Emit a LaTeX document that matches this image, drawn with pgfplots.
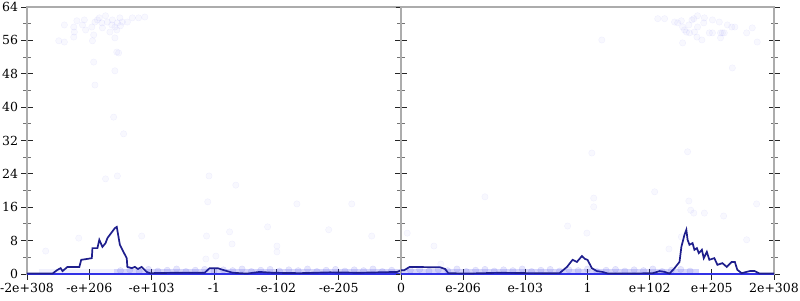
\documentclass[border=0pt]{standalone}
\usepackage{fontspec}
\setmainfont{DejaVu Serif}
\usepackage{pgfplots}
\pgfplotsset{compat=1.18}
\definecolor{axisgray}{RGB}{172,172,172}
\definecolor{navy}{RGB}{30,30,140}
\definecolor{ptblue}{RGB}{50,50,230}
\begin{document}
\begin{tikzpicture}
\path[use as bounding box] (0pt,0pt) rectangle (800pt,300pt);
\pgfplotsset{
 panel/.style={
  scale only axis, height=267pt, ymin=0, ymax=64, clip=false,
  axis line style={axisgray, line width=1.6pt},
  ytick={0,8,...,64}, minor y tick num=1,
  tick align=center, major tick length=11pt, minor tick length=7pt,
  major tick style={black!85, line width=0.9pt},
  minor tick style={black!55, line width=0.9pt},
  xtick pos=bottom, ytick pos=both,
  tick label style={font=\fontsize{12.5}{14}\selectfont, black},
  /pgf/number format/assume math mode=true,
 },
 pts/.style={only marks, mark=*, mark size=3.2pt,
  mark options={fill=ptblue, draw=ptblue, fill opacity=0.035, draw opacity=0.06}},
 band/.style={only marks, mark=*, mark size=3.2pt,
  mark options={fill=ptblue, draw=ptblue, fill opacity=0.12, draw opacity=0.12}},
}
% ---------------- left panel ----------------
\begin{axis}[panel, at={(27pt,26pt)}, anchor=south west, width=374pt,
  xmin=-6, xmax=0, xtick={-6,...,0},
  xticklabels={-2e+308,-e+206,-e+103,-1,-e-102,-e-205,0},
  yticklabel pos=left]
\addplot[draw=none, fill=ptblue, fill opacity=0.07] coordinates
 {(-5.8,0) (-5.8,1.3) (-4.6,1.3) (-4.6,0)} -- cycle;
\addplot[draw=none, fill=ptblue, fill opacity=0.2] coordinates
 {(-4.6,0) (-4.6,1.3) (0,1.3) (0,0)} -- cycle;
\addplot[band] coordinates {
 (-4.5,0.8)(-4.35,1.0)(-4.2,0.6)(-4.05,1.1)(-3.9,0.7)(-3.75,0.9)(-3.6,1.2)(-3.45,0.6)
 (-3.3,0.9)(-3.15,1.1)(-3.0,0.7)(-2.85,1.0)(-2.7,0.8)(-2.55,1.2)(-2.4,0.6)(-2.25,0.9)
 (-2.1,1.1)(-1.95,0.7)(-1.8,1.0)(-1.65,0.8)(-1.5,1.2)(-1.35,0.6)(-1.2,0.9)(-1.05,1.1)
 (-0.9,0.7)(-0.75,1.0)(-0.6,0.8)(-0.45,1.2)(-0.3,0.6)(-0.15,0.9)};
\addplot[pts] coordinates {
 (-5.40,59.7)(-5.49,55.9)(-5.40,55.6)(-5.25,59.2)(-5.24,58.0)(-5.25,56.8)(-5.20,60.7)
 (-5.11,59.7)(-5.08,60.9)(-5.06,58.5)(-4.96,59.2)(-4.95,55.9)(-4.93,57.3)(-4.91,60.4)
 (-4.87,60.9)(-4.84,61.4)(-4.80,60.2)(-4.79,59.0)(-4.74,61.9)(-4.71,60.4)(-4.67,58.0)
 (-4.64,59.7)(-4.63,60.9)(-4.59,59.2)(-4.56,58.5)(-4.55,60.2)(-4.51,61.4)(-4.50,59.5)
 (-4.47,60.4)(-4.39,60.4)(-4.31,61.4)(-4.21,61.4)(-4.11,61.6)(-4.59,56.6)(-4.56,53.2)
 (-4.53,53.0)(-4.93,50.8)(-4.59,48.7)(-4.91,45.3)(-4.61,37.6)(-4.45,33.6)
 (-4.74,22.8)(-4.55,23.5)(-5.17,8.6)(-5.70,5.5)(-4.16,9.1)(-3.08,23.5)(-2.65,21.3)
 (-3.10,17.3)(-1.67,16.8)(-0.79,16.8)(-2.14,11.3)(-2.75,10.1)(-1.16,10.6)(-3.12,9.1)
 (-2.71,7.2)(-0.47,9.1)(-1.99,6.7)(-1.99,5.3)(-3.13,3.6)(-2.97,4.3)};
\addplot[ptblue, line width=2.4pt] coordinates {(-6,0) (0,0)};
\addplot[navy, line width=1.7pt] coordinates {
 (-6,0.1)(-5.59,0.1)(-5.51,1.0)(-5.46,1.4)(-5.43,0.7)(-5.35,1.7)(-5.16,1.7)(-5.13,3.4)
 (-5.04,3.6)(-4.96,3.8)(-4.95,6.2)(-4.87,6.2)(-4.84,8.2)(-4.79,6.5)(-4.74,7.4)(-4.71,8.6)
 (-4.64,10.0)(-4.59,11.0)(-4.56,11.3)(-4.51,7.0)(-4.47,5.8)(-4.40,3.8)(-4.39,1.7)
 (-4.32,1.4)(-4.27,1.7)(-4.22,1.2)(-4.16,1.7)(-4.08,0.5)(-4.03,0.2)(-3.6,0.3)(-3.15,0.3)
 (-3.07,1.4)(-2.94,1.4)(-2.86,1.0)(-2.70,0.3)(-2.47,0.1)(-2.27,0.5)(-2.06,0.3)(-1.62,0.2)
 (-1.14,0.4)(-0.66,0.3)(-0.06,0.5)(0,0.9)};
\end{axis}
% ---------------- right panel ----------------
\begin{axis}[panel, at={(401pt,26pt)}, anchor=south west, width=373pt,
  xmin=0, xmax=6, xtick={1,...,6},
  xticklabels={e-206,e-103,1,e+102,e+205,2e+308},
  yticklabels={}]
\addplot[draw=none, fill=ptblue, fill opacity=0.2] coordinates
 {(0,0) (0,1.3) (4.8,1.3) (4.8,0)} -- cycle;
\addplot[band] coordinates {
 (0.15,0.9)(0.3,1.1)(0.45,0.7)(0.6,1.0)(0.75,0.8)(0.9,1.2)(1.05,0.6)(1.2,0.9)
 (1.35,1.1)(1.5,0.7)(1.65,1.0)(1.8,0.8)(1.95,1.2)(2.1,0.6)(2.25,0.9)(2.4,1.1)
 (2.55,0.7)(2.7,1.0)(2.85,0.8)(3.0,1.2)(3.15,0.6)(3.3,0.9)(3.45,1.1)(3.6,0.7)
 (3.75,1.0)(3.9,0.8)(4.05,1.2)(4.2,0.6)(4.35,0.9)(4.5,1.1)(4.65,0.7)};
\addplot[pts] coordinates {
 (3.07,29.0)(1.35,18.5)(3.10,18.2)(3.10,16.1)(2.68,11.5)(2.99,9.8)(0.10,9.8)(0.53,6.7)
 (0.64,2.4)(4.61,29.3)(4.08,19.7)(4.63,17.5)(4.66,15.3)(4.71,14.6)(4.88,14.6)(5.19,13.9)
 (5.72,16.8)(5.56,8.2)(4.31,6.0)(4.51,8.9)
 (3.23,56.1)(4.13,61.2)(4.24,61.2)(4.40,60.4)(4.45,60.2)(4.51,60.7)(4.53,59.2)(4.56,58.5)
 (4.59,58.0)(4.63,59.7)(4.68,60.9)(4.71,61.2)(4.77,61.9)(4.77,59.2)(4.72,58.0)(4.64,57.8)
 (4.53,55.4)(4.88,61.4)(4.87,60.2)(4.96,57.8)(5.01,60.9)(5.01,57.8)(5.12,60.4)(5.14,57.8)
 (5.17,57.8)(5.20,57.8)(5.25,59.7)(5.32,59.2)(5.37,59.2)(5.56,57.8)(5.65,59.0)(5.73,55.6)
 (5.33,49.4)(4.76,56.8)(4.84,56.1)(5.14,56.6)};
\addplot[ptblue, line width=2.4pt] coordinates {(0,0) (6,0)};
\addplot[navy, line width=1.7pt] coordinates {
 (0,0.9)(0.05,0.9)(0.14,1.7)(0.63,1.6)(0.71,1.2)(0.76,0.2)(1.06,0.1)(1.59,0.3)(2.07,0.2)
 (2.55,0.2)(2.67,1.7)(2.76,3.4)(2.83,2.9)(2.91,4.3)(2.96,3.6)(3.00,3.4)(3.07,1.4)
 (3.15,0.7)(3.24,0.5)(3.33,0.1)(3.68,0.1)(4.05,0.2)(4.16,0.7)(4.24,0.5)(4.32,0.1)
 (4.40,1.4)(4.48,2.9)(4.51,6.5)(4.56,9.4)(4.59,10.6)(4.61,8.2)(4.64,7.0)(4.69,7.4)
 (4.72,5.8)(4.76,6.2)(4.79,5.0)(4.84,5.8)(4.87,3.8)(4.92,5.3)(4.96,3.4)(5.04,3.8)
 (5.09,2.2)(5.17,2.6)(5.24,1.7)(5.32,2.9)(5.37,2.9)(5.41,1.0)(5.48,0.2)(5.61,0.7)
 (5.69,0.7)(5.77,0.1)(6,0.1)};
\end{axis}
\end{tikzpicture}
\end{document}
